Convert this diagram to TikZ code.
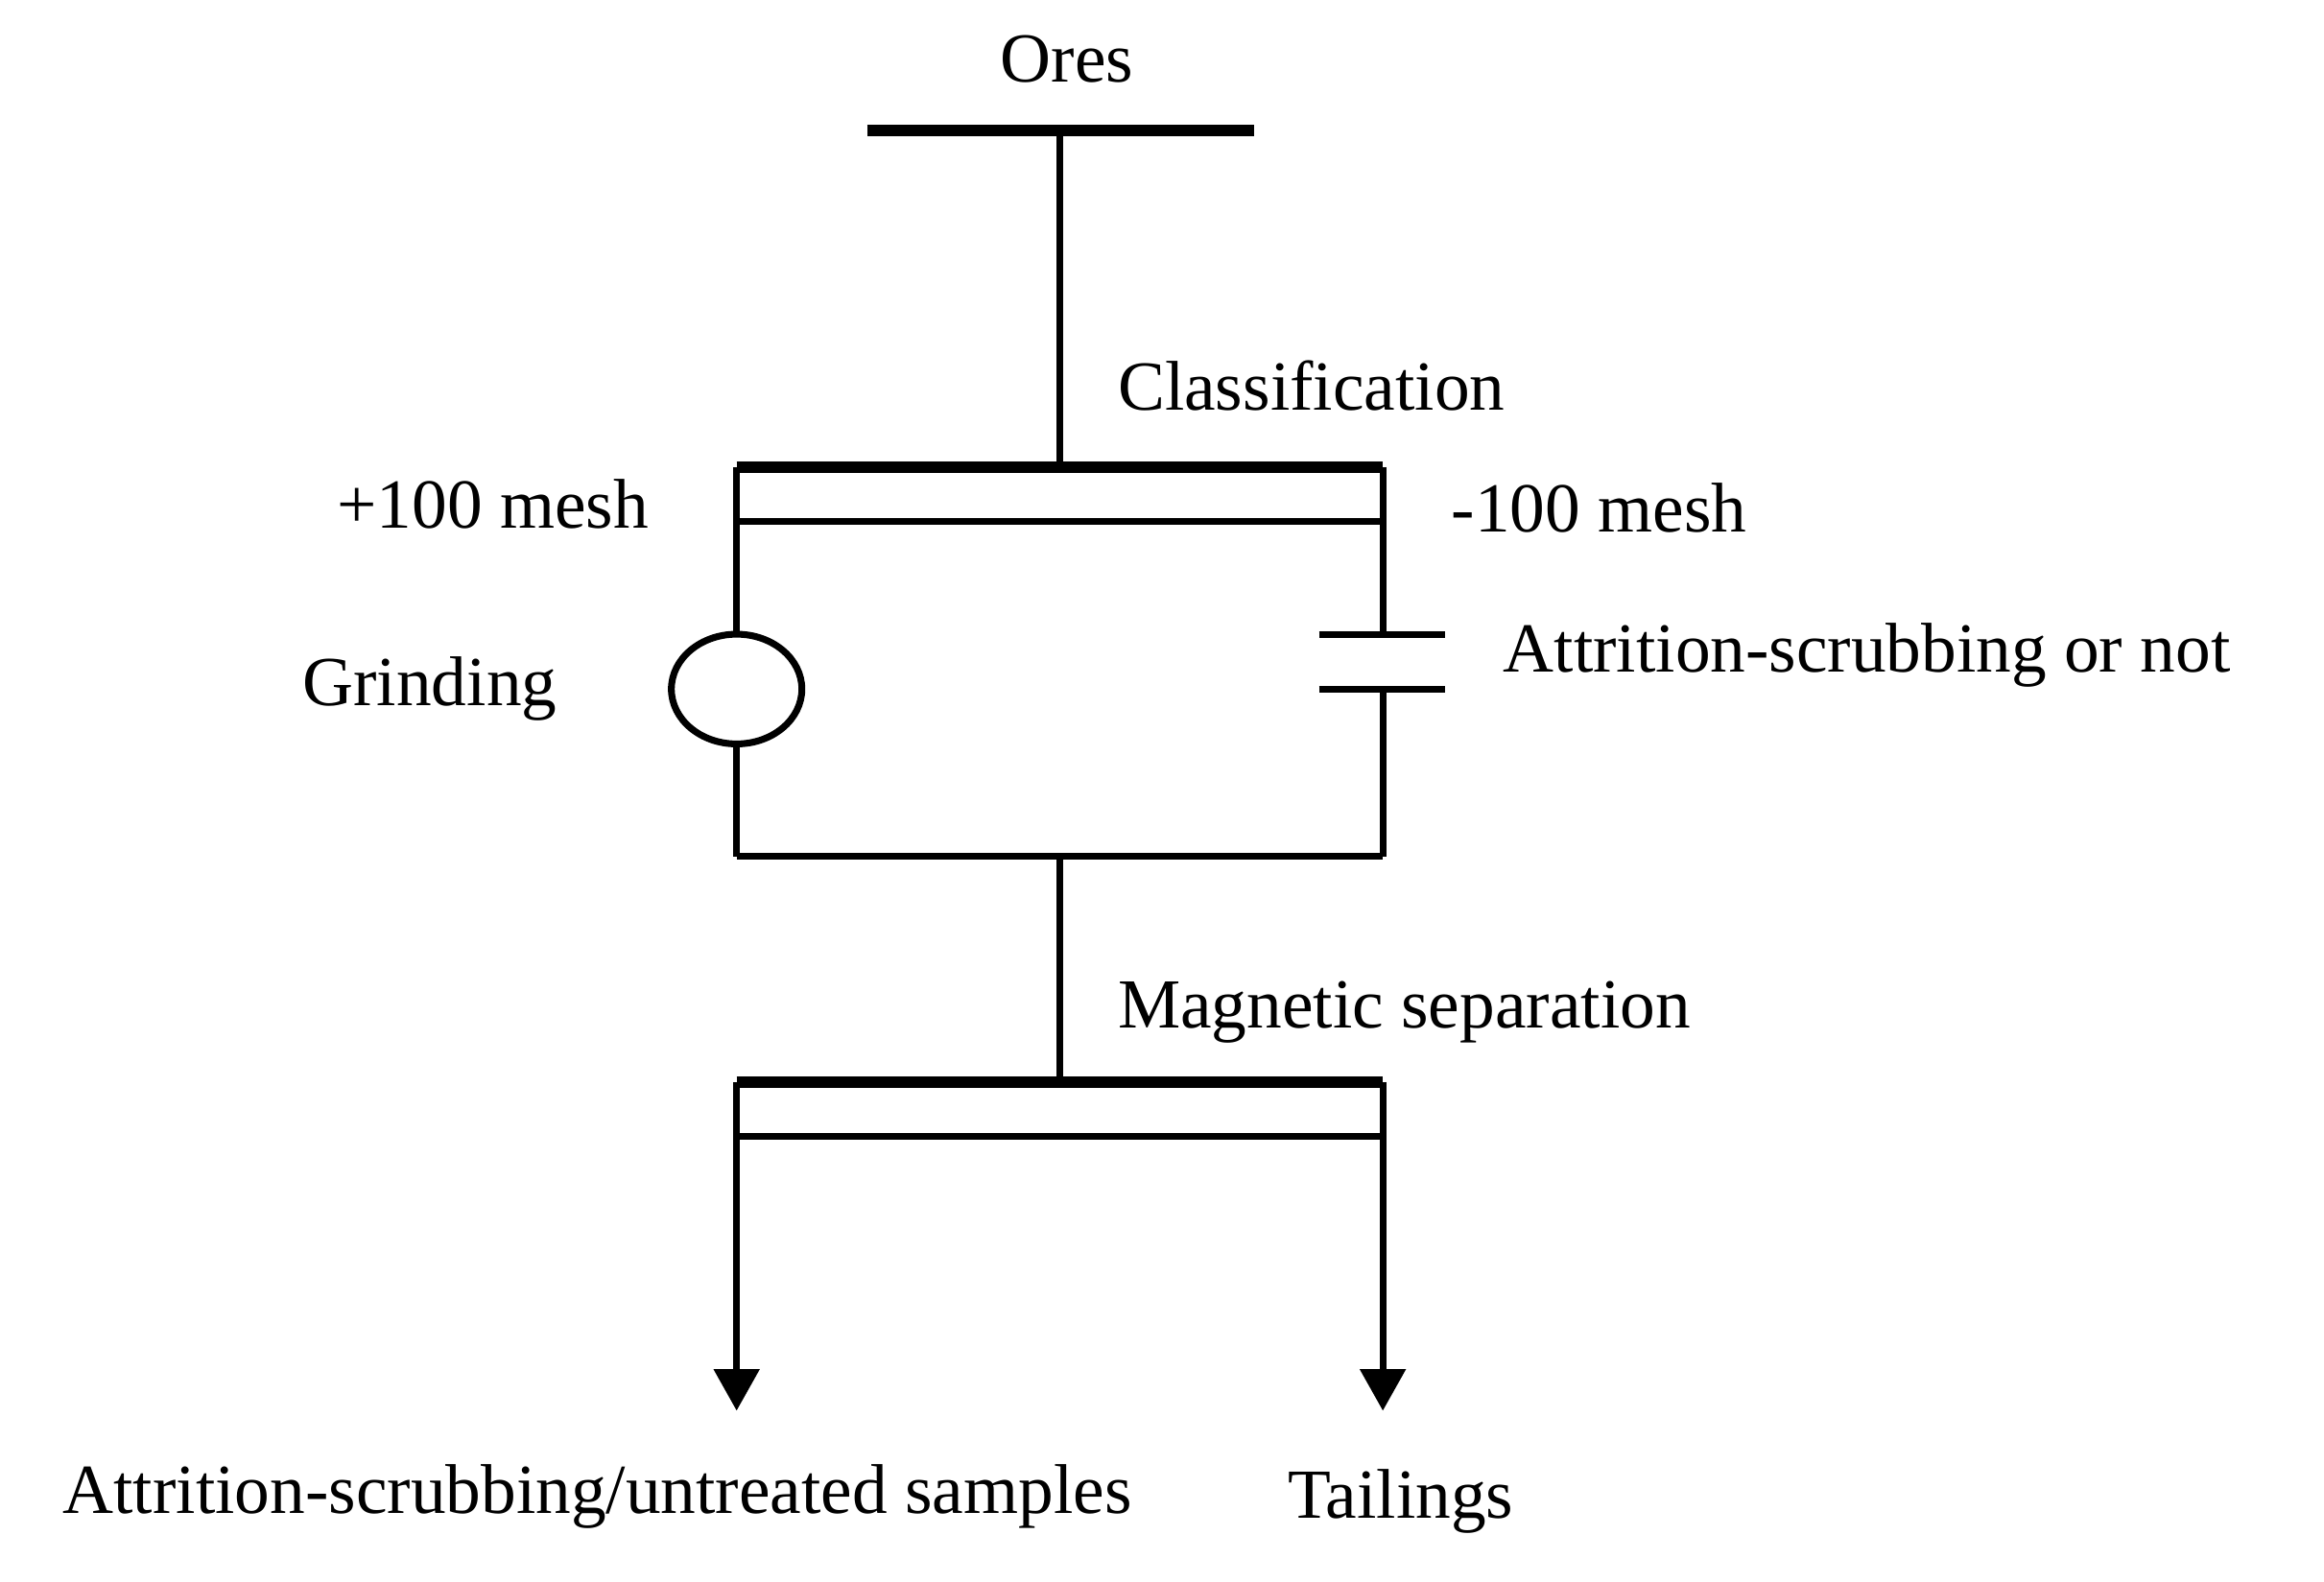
\documentclass[tikz,border=0pt]{standalone}
\usepackage{fontspec}
\setmainfont{Liberation Serif}
\usetikzlibrary{arrows.meta,shapes.geometric}
\begin{document}
\begin{tikzpicture}[x=0.01cm,y=-0.01cm,line width=1.3pt,
  lbl/.style={font=\fontsize{13.5}{16}\selectfont,inner sep=0pt},
  thick bar/.style={line width=2.2pt},
  arr/.style={-{Triangle[length=0.28cm,width=0.3cm]}}]
\useasboundingbox (0,0) rectangle (1568,1067);
\node[lbl] (ores) at (720,40) {Ores};
\coordinate (ttop) at (715,88);
\draw[thick bar] (585,88) -- (846,88);
\node[lbl,anchor=west] (cls) at (752,260) {Classification};
\coordinate (c1) at (715,315);
\draw (ttop) -- (c1);
\draw[thick bar] (497,315) -- (933,315);
\draw (497,352) -- (933,352);
\node[lbl,anchor=east] (plus) at (440,340) {+100 mesh};
\node[lbl,anchor=west] (minus) at (977,343) {-100 mesh};
\node[draw,ellipse,minimum width=0.88cm,minimum height=0.74cm,inner sep=0pt] (grind) at (497,465) {};
\node[lbl] (gl) at (290,465) {Grinding};
\draw (497,315) -- (grind.north);
\draw (grind.south) -- (497,578);
\coordinate (p1) at (933,428);
\coordinate (p2) at (933,465);
\draw (933,315) -- (p1);
\draw (p2) -- (933,578);
\draw (890,428) -- (975,428);
\draw (890,465) -- (975,465);
\node[lbl,anchor=west] (att) at (1012,442) {Attrition-scrubbing or not};
\draw (497,578) -- (933,578);
\coordinate (m0) at (715,578);
\coordinate (m1) at (715,730);
\draw (m0) -- (m1);
\node[lbl,anchor=west] (mag) at (752,683) {Magnetic separation};
\draw[thick bar] (497,730) -- (933,730);
\draw (497,767) -- (933,767);
\node[lbl] (samp) at (403,1010) {Attrition-scrubbing/untreated samples};
\node[lbl] (tail) at (945,1013) {Tailings};
\coordinate (a1) at (497,952);
\coordinate (a2) at (933,952);
\draw[arr] (497,730) -- (a1);
\draw[arr] (933,730) -- (a2);
\end{tikzpicture}
\end{document}
